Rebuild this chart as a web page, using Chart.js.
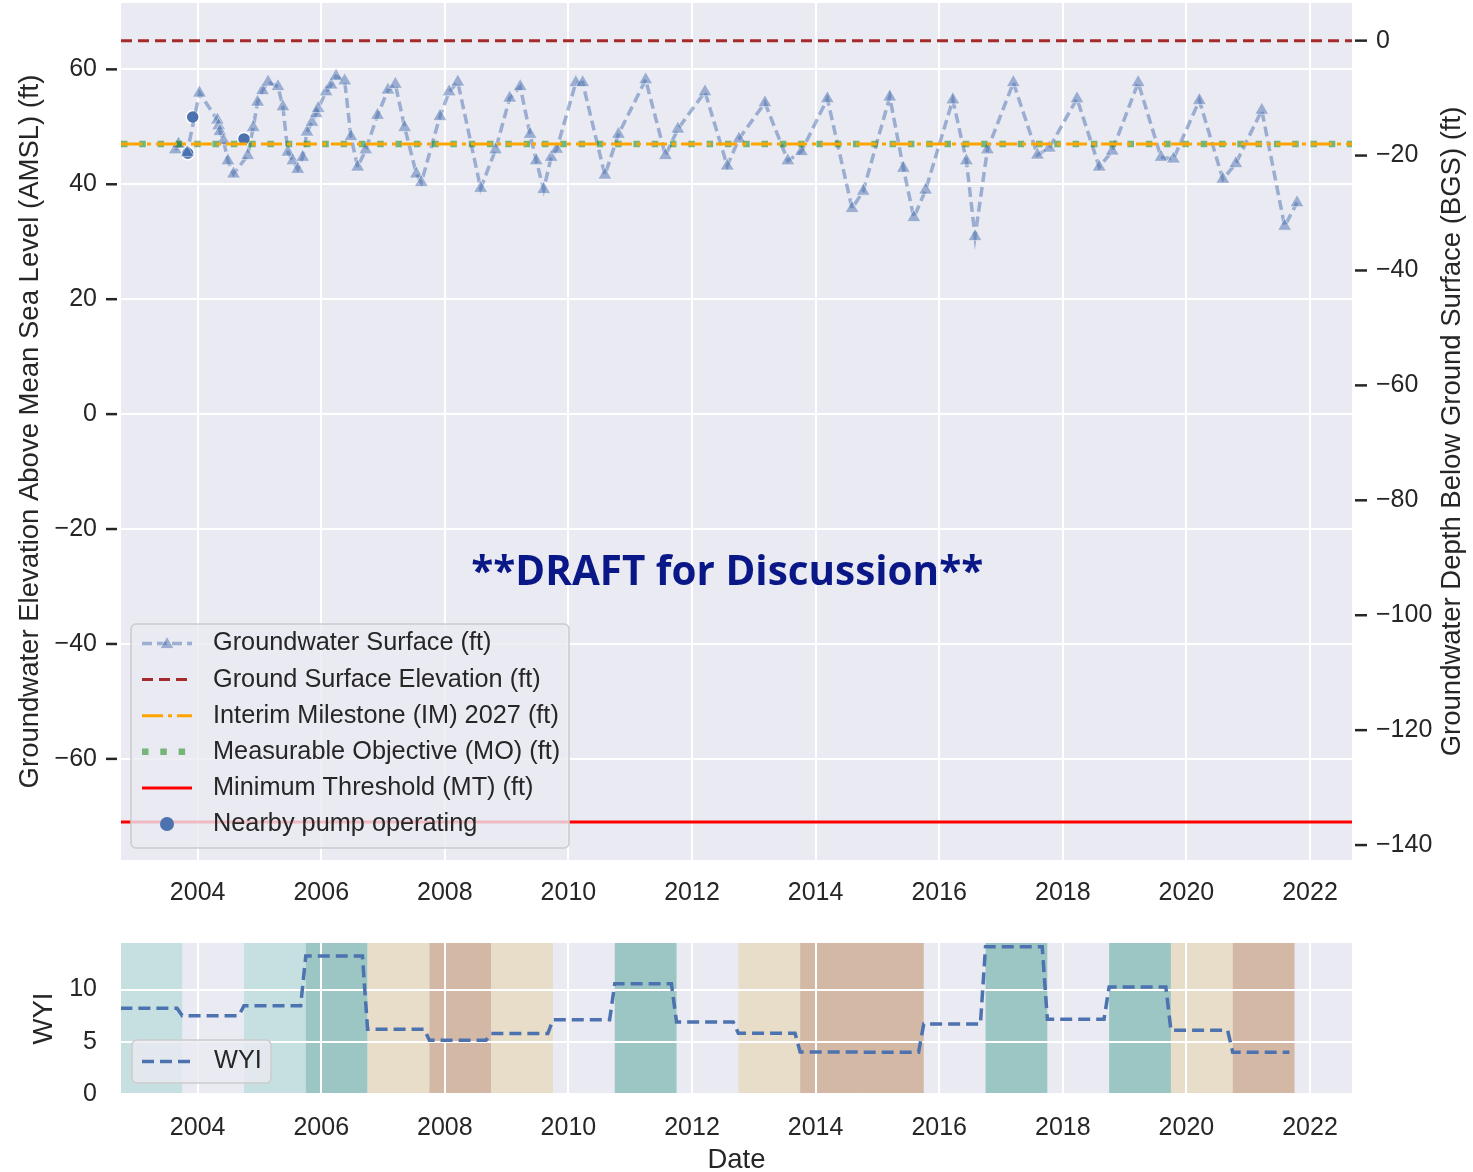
<!DOCTYPE html>
<html>
<head>
<meta charset="utf-8">
<script src="https://cdn.jsdelivr.net/npm/chart.js@4.4.0/dist/chart.umd.min.js"></script>
<style>
  html, body { margin: 0; padding: 0; background: #fff; }
  #wrap { position: relative; width: 1473px; height: 1172px; }
  #top { position: absolute; left: 0; top: 0; }
  #bottom { position: absolute; left: 0; top: 925px; }
</style>
</head>
<body>
<div id="wrap">
  <canvas id="top" width="1473" height="925"></canvas>
  <canvas id="bottom" width="1473" height="247"></canvas>
</div>
<script>
// ---- data (decimal years) ----
const gwDates = [2003.64, 2003.69, 2003.83, 2004.03, 2004.32, 2004.34, 2004.36, 2004.42, 2004.49, 2004.58,
  2004.81, 2004.90, 2004.97, 2005.05, 2005.14, 2005.30, 2005.38, 2005.46, 2005.54, 2005.62,
  2005.70, 2005.77, 2005.85, 2005.92, 2005.95, 2006.08, 2006.16, 2006.24, 2006.38, 2006.48,
  2006.59, 2006.72, 2006.91, 2007.08, 2007.20, 2007.35, 2007.54, 2007.62, 2007.92, 2008.07,
  2008.21, 2008.58, 2008.82, 2009.05, 2009.22, 2009.38, 2009.48, 2009.60, 2009.72, 2009.81,
  2010.12, 2010.23, 2010.59, 2010.81, 2011.25, 2011.57, 2011.77, 2012.21, 2012.57, 2012.76,
  2013.18, 2013.55, 2013.77, 2014.19, 2014.59, 2014.77, 2015.20, 2015.42, 2015.59, 2015.78,
  2016.22, 2016.44, 2016.58, 2016.78, 2017.20, 2017.59, 2017.78, 2018.23, 2018.59, 2018.80,
  2019.22, 2019.59, 2019.79, 2020.21, 2020.59, 2020.80, 2021.22, 2021.59, 2021.79];
const gwLevels = [46.0, 47.0, 45.5, 55.9, 51.2, 50.2, 49.2, 47.6, 44.1, 41.8,
  45.0, 49.9, 54.3, 56.3, 57.8, 57.0, 53.5, 45.6, 44.1, 42.6,
  44.7, 49.1, 50.8, 52.3, 53.2, 56.1, 57.3, 58.8, 58.0, 48.3,
  43.0, 46.0, 52.0, 56.4, 57.4, 49.9, 41.8, 40.3, 51.8, 56.1,
  57.8, 39.3, 46.0, 55.0, 57.0, 48.7, 44.1, 39.1, 44.7, 46.1,
  57.7, 57.7, 41.6, 48.7, 58.2, 45.0, 49.6, 56.1, 43.2, 47.9,
  54.2, 44.1, 45.7, 54.9, 35.8, 38.8, 55.2, 42.8, 34.2, 39.0,
  54.7, 44.1, 30.9, 46.0, 57.7, 45.1, 46.3, 54.9, 43.0, 45.8,
  57.7, 44.7, 44.4, 54.6, 40.9, 43.6, 52.9, 32.7, 36.8];
const pumpDates = [2003.84, 2003.92, 2004.75];
const pumpLevels = [45.4, 51.7, 47.9];

const groundSurface = 65;
const interimMilestone = 47;
const measurableObjective = 47;
const minimumThreshold = -71;

const yearTicks = [2004, 2006, 2008, 2010, 2012, 2014, 2016, 2018, 2020, 2022];
const elevTicks = [60, 40, 20, 0, -20, -40, -60];
const depthTicks = [0, -20, -40, -60, -80, -100, -120, -140];
const wyiTicks = [0, 5, 10];

const waterYears = [2003, 2004, 2005, 2006, 2007, 2008, 2009, 2010, 2011, 2012,
  2013, 2014, 2015, 2016, 2017, 2018, 2019, 2020, 2021];
const wyiValues = [8.2, 7.5, 8.45, 13.2, 6.2, 5.15, 5.78, 7.1, 10.54, 6.88,
  5.82, 4.02, 4.0, 6.7, 14.1, 7.16, 10.25, 6.1, 4.0];
const wyTypes = ['AN', 'BN', 'AN', 'W', 'D', 'C', 'D', 'BN', 'W', 'BN',
  'D', 'C', 'C', 'BN', 'W', 'BN', 'W', 'D', 'C'];

const xMin = 2002.76, xMax = 2022.68;
const elevMin = -77.6, elevMax = 71.55;

const FONT = '"Liberation Sans", Arial, sans-serif';
const TXT = '#262626';
const BG = '#eaeaf2';
const TITLE_SIZE = 27.5;
const bandColors = { W: '#9bc6c4', AN: '#c6e0e1', D: '#e7ddc9', C: '#d4b8a6' };

const minus = v => v < 0 ? '\u2212' + Math.abs(v) : String(v);
const ticksFrom = arr => scale => { scale.ticks = arr.map(v => ({ value: v })); };
// fixed axis size, and no extra room for half-labels
const fixW = w => s => { s.width = w; s.paddingTop = 0; s.paddingBottom = 0; };
const fixH = h => s => { s.height = h; s.paddingLeft = 0; s.paddingRight = 0; };

const gwPoints = gwDates.map((x, i) => ({ x, y: gwLevels[i] }));
const pumpPoints = pumpDates.map((x, i) => ({ x, y: pumpLevels[i] }));
const flat = v => [{ x: xMin, y: v }, { x: xMax, y: v }];
// each water year runs Oct 1 -> Sep 1 on the index line
const wyiPoints = [];
waterYears.forEach((wy, i) => {
  wyiPoints.push({ x: wy - 0.25, y: wyiValues[i] }, { x: wy + 0.667, y: wyiValues[i] });
});

function line(ctx, x1, y1, x2, y2, color, width, dash) {
  ctx.save();
  ctx.strokeStyle = color;
  ctx.lineWidth = width;
  ctx.setLineDash(dash || []);
  ctx.beginPath();
  ctx.moveTo(x1, y1);
  ctx.lineTo(x2, y2);
  ctx.stroke();
  ctx.restore();
}

function legendBox(ctx, x, y, w, h) {
  ctx.save();
  ctx.beginPath();
  ctx.roundRect(x, y, w, h, 5);
  ctx.fillStyle = 'rgba(234,234,242,0.8)';
  ctx.fill();
  ctx.strokeStyle = '#cccccc';
  ctx.lineWidth = 1.5;
  ctx.stroke();
  ctx.restore();
}

function triangle(ctx, cx, cy, r, fill, stroke) {
  ctx.save();
  ctx.beginPath();
  ctx.moveTo(cx, cy - r);
  ctx.lineTo(cx + r * 0.866, cy + r * 0.5);
  ctx.lineTo(cx - r * 0.866, cy + r * 0.5);
  ctx.closePath();
  ctx.fillStyle = fill;
  ctx.fill();
  ctx.strokeStyle = stroke;
  ctx.lineWidth = 1;
  ctx.stroke();
  ctx.restore();
}

function label(ctx, text, x, y, size, rot, align) {
  ctx.save();
  ctx.translate(x, y);
  if (rot) ctx.rotate(rot);
  ctx.font = size + 'px ' + FONT;
  ctx.fillStyle = TXT;
  ctx.textAlign = align || 'center';
  ctx.textBaseline = 'middle';
  ctx.fillText(text, 0, 0);
  ctx.restore();
}

const GW_COLOR = 'rgba(76,114,176,0.5)';
const IM_DASH = [21, 5, 4, 5];
const MO_DASH = [6.5, 11.8];

const topDecor = {
  id: 'topDecor',
  beforeDraw(chart) {
    const { ctx, chartArea: a } = chart;
    ctx.save();
    ctx.fillStyle = BG;
    ctx.fillRect(a.left, a.top, a.right - a.left, a.bottom - a.top);
    ctx.restore();
  },
  afterDraw(chart) {
    const { ctx, chartArea: a, scales } = chart;
    // tick marks on both y axes
    elevTicks.forEach(v => {
      const y = scales.y.getPixelForValue(v);
      line(ctx, a.left - 15, y, a.left - 4, y, TXT, 2.5);
    });
    depthTicks.forEach(v => {
      const y = scales.y2.getPixelForValue(v);
      line(ctx, a.right + 3, y, a.right + 15, y, TXT, 2.5);
    });
    const cy = (a.top + a.bottom) / 2;
    label(ctx, 'Groundwater Elevation Above Mean Sea Level (AMSL) (ft)', 30, cy, TITLE_SIZE, -Math.PI / 2);
    label(ctx, 'Groundwater Depth Below Ground Surface (BGS) (ft)', 1452, cy, TITLE_SIZE, -Math.PI / 2);

    // draft watermark
    ctx.save();
    const tx = scales.x.getPixelForValue(2012.57);
    const ty = scales.y.getPixelForValue(-27.7);
    ctx.font = 'bold 42px "Open Sans", sans-serif';
    const w = ctx.measureText('**DRAFT for Discussion**').width;
    ctx.translate(tx, ty);
    ctx.scale(512 / w, 1);
    ctx.fillStyle = '#0a1786';
    ctx.textAlign = 'center';
    ctx.textBaseline = 'middle';
    ctx.fillText('**DRAFT for Discussion**', 0, 0);
    ctx.restore();

    // legend
    const lx = a.left + 10, lw = 438, lh = 224;
    const ly = a.bottom - 12 - lh;
    legendBox(ctx, lx, ly, lw, lh);
    const s1 = lx + 11, s2 = lx + 61, sm = lx + 36, tx0 = lx + 82;
    const rows = [
      'Groundwater Surface (ft)', 'Ground Surface Elevation (ft)', 'Interim Milestone (IM) 2027 (ft)',
      'Measurable Objective (MO) (ft)', 'Minimum Threshold (MT) (ft)', 'Nearby pump operating'
    ];
    rows.forEach((t, i) => {
      const y = ly + 19.5 + i * 36.1;
      if (i === 0) {
        line(ctx, s1, y, s2, y, GW_COLOR, 3.5, [10, 5]);
        triangle(ctx, sm, y + 1, 8, GW_COLOR, 'rgba(255,255,255,0.5)');
      } else if (i === 1) {
        line(ctx, s1, y, s2, y, '#a52a2a', 3, [11, 6]);
      } else if (i === 2) {
        line(ctx, s1, y, s2, y, '#ffa500', 3, IM_DASH);
      } else if (i === 3) {
        line(ctx, s1, y, s2, y, 'rgba(0,128,0,0.5)', 6.5, MO_DASH);
      } else if (i === 4) {
        line(ctx, s1, y, s2, y, '#ff0000', 3);
      } else {
        ctx.save();
        ctx.beginPath();
        ctx.arc(sm, y, 7, 0, Math.PI * 2);
        ctx.fillStyle = '#4c72b0';
        ctx.fill();
        ctx.restore();
      }
      label(ctx, t, tx0, y, 25.3, 0, 'left');
    });
  }
};

const bottomDecor = {
  id: 'bottomDecor',
  beforeDraw(chart) {
    const { ctx, chartArea: a, scales } = chart;
    ctx.save();
    ctx.fillStyle = BG;
    ctx.fillRect(a.left, a.top, a.right - a.left, a.bottom - a.top);
    waterYears.forEach((wy, i) => {
      const c = bandColors[wyTypes[i]];
      if (!c) return;
      const x1 = Math.max(a.left, scales.x.getPixelForValue(wy - 0.25));
      const x2 = Math.min(a.right, scales.x.getPixelForValue(wy + 0.75));
      ctx.fillStyle = c;
      ctx.fillRect(x1, a.top, x2 - x1, a.bottom - a.top);
    });
    ctx.restore();
  },
  afterDraw(chart) {
    const { ctx, chartArea: a } = chart;
    label(ctx, 'WYI', 44, (a.top + a.bottom) / 2, TITLE_SIZE, -Math.PI / 2);
    label(ctx, 'Date', (a.left + a.right) / 2, 235, TITLE_SIZE, 0);
    const lx = a.left + 11, lw = 139, lh = 43;
    const ly = a.bottom - 11 - lh;
    legendBox(ctx, lx, ly, lw, lh);
    const y = ly + lh / 2;
    line(ctx, lx + 10, y, lx + 60, y, '#4c72b0', 3.5, [12, 6]);
    label(ctx, 'WYI', lx + 82, y, 25.3, 0, 'left');
  }
};

const tickFont = { family: FONT, size: 25 };
const gridOpts = { color: '#ffffff', lineWidth: 2, drawTicks: false };

new Chart(document.getElementById('top'), {
  type: 'line',
  data: {
    datasets: [
      { label: 'Ground Surface Elevation (ft)', data: flat(groundSurface), borderColor: '#a52a2a',
        borderWidth: 3, borderDash: [11, 6], pointRadius: 0 },
      { label: 'Interim Milestone (IM) 2027 (ft)', data: flat(interimMilestone), borderColor: '#ffa500',
        borderWidth: 3, borderDash: IM_DASH, pointRadius: 0 },
      { label: 'Measurable Objective (MO) (ft)', data: flat(measurableObjective), borderColor: 'rgba(0,128,0,0.5)',
        borderWidth: 6.5, borderDash: MO_DASH, borderCapStyle: 'butt', pointRadius: 0 },
      { label: 'Minimum Threshold (MT) (ft)', data: flat(minimumThreshold), borderColor: '#ff0000',
        borderWidth: 3, pointRadius: 0 },
      { label: 'Groundwater Surface (ft)', data: gwPoints, borderColor: GW_COLOR, borderWidth: 3.5,
        borderDash: [10, 5], pointStyle: 'triangle', pointRadius: 8, pointBackgroundColor: GW_COLOR,
        pointBorderColor: 'rgba(255,255,255,0.5)', pointBorderWidth: 1 },
      { label: 'Nearby pump operating', data: pumpPoints, showLine: false, pointStyle: 'circle',
        pointRadius: 6.5, pointBackgroundColor: '#4c72b0', pointBorderColor: '#ffffff', pointBorderWidth: 1.5 }
    ]
  },
  options: {
    responsive: false,
    animation: false,
    layout: { autoPadding: false, padding: { top: 3, left: 0, right: 0, bottom: 0 } },
    plugins: { legend: { display: false }, tooltip: { enabled: false } },
    scales: {
      x: {
        type: 'linear', min: xMin, max: xMax,
        afterBuildTicks: ticksFrom(yearTicks),
        afterFit: fixH(65),
        grid: gridOpts, border: { display: false },
        ticks: { font: tickFont, color: TXT, padding: 18, maxRotation: 0, callback: v => String(v) }
      },
      y: {
        position: 'left', min: elevMin, max: elevMax,
        afterBuildTicks: ticksFrom(elevTicks),
        afterFit: fixW(121),
        grid: gridOpts, border: { display: false },
        ticks: { font: tickFont, color: TXT, padding: 24, callback: minus }
      },
      y2: {
        position: 'right', min: elevMin - groundSurface, max: elevMax - groundSurface,
        afterBuildTicks: ticksFrom(depthTicks),
        afterFit: fixW(121),
        grid: { display: false, drawTicks: false }, border: { display: false },
        ticks: { font: tickFont, color: TXT, padding: 24, callback: minus }
      }
    }
  },
  plugins: [topDecor]
});

new Chart(document.getElementById('bottom'), {
  type: 'line',
  data: {
    datasets: [
      { label: 'WYI', data: wyiPoints, borderColor: '#4c72b0', borderWidth: 3.5, borderDash: [12, 6],
        pointRadius: 0, tension: 0 }
    ]
  },
  options: {
    responsive: false,
    animation: false,
    layout: { autoPadding: false, padding: { top: 18, left: 0, right: 121, bottom: 0 } },
    plugins: { legend: { display: false }, tooltip: { enabled: false } },
    scales: {
      x: {
        type: 'linear', min: xMin, max: xMax,
        afterBuildTicks: ticksFrom(yearTicks),
        afterFit: fixH(78),
        grid: gridOpts, border: { display: false },
        ticks: { font: tickFont, color: TXT, padding: 19, maxRotation: 0, callback: v => String(v) }
      },
      y: {
        position: 'left', min: 0, max: 14.45,
        afterBuildTicks: ticksFrom(wyiTicks),
        afterFit: fixW(121),
        grid: gridOpts, border: { display: false },
        ticks: { font: tickFont, color: TXT, padding: 24, callback: minus }
      }
    }
  },
  plugins: [bottomDecor]
});
</script>
</body>
</html>
